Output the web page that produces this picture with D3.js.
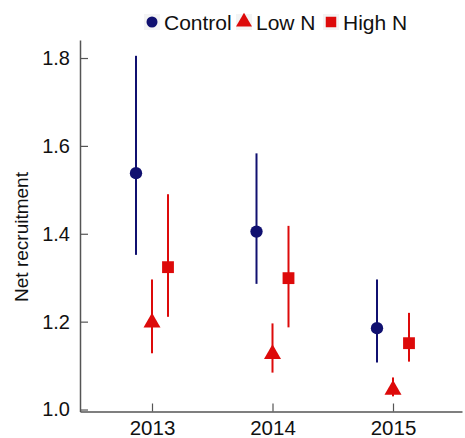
<!DOCTYPE html>
<html>
<head>
<meta charset="utf-8">
<script src="https://cdn.jsdelivr.net/npm/d3@7"></script>
<style>
  body { margin: 0; background: #fff; }
  text { font-family: "Liberation Sans", Arial, sans-serif; }
</style>
</head>
<body>
<div id="chart"></div>
<script>
// Data
const years = [2013, 2014, 2015];
const groups = ["Control", "Low N", "High N"];
const controlMean = [1.538, 1.405, 1.185];
const controlLow = [1.352, 1.286, 1.107];
const controlHigh = [1.805, 1.583, 1.296];
const lowNMean = [1.198, 1.126, 1.045];
const lowNLow = [1.128, 1.084, 1.030];
const lowNHigh = [1.296, 1.196, 1.073];
const highNMean = [1.324, 1.299, 1.151];
const highNLow = [1.211, 1.187, 1.109];
const highNHigh = [1.490, 1.418, 1.220];
const yTicks = [1.0, 1.2, 1.4, 1.6, 1.8];

const width = 465, height = 438;
const navy = "#101070", red = "#dd0a0a";

const series = [
  { name: "Control", mean: controlMean, lo: controlLow, hi: controlHigh, color: navy, shape: d3.symbolCircle, size: 120 },
  { name: "Low N", mean: lowNMean, lo: lowNLow, hi: lowNHigh, color: red, shape: d3.symbolTriangle, size: 125 },
  { name: "High N", mean: highNMean, lo: highNLow, hi: highNHigh, color: red, shape: d3.symbolSquare, size: 140 }
];

const svg = d3.select("#chart")
  .append("svg")
  .attr("width", width)
  .attr("height", height);

const xScale = d3.scaleLinear()
  .domain([2012.4025, 2015.5726])
  .range([80, 462]);
const offset = d3.scalePoint()
  .domain(groups)
  .range([-16, 16]);
const yScale = d3.scaleLinear()
  .domain([0.9955, 1.841])
  .range([411.5, 40]);

// y axis
svg.append("g")
  .attr("transform", "translate(80,0)")
  .call(d3.axisLeft(yScale).tickValues(yTicks).tickFormat(d3.format(".1f"))
    .tickSizeInner(-8).tickSizeOuter(0).tickPadding(10))
  .call(g => g.select(".domain").attr("stroke", "#555").attr("stroke-width", 1.5))
  .call(g => g.selectAll(".tick line").attr("stroke", "#555").attr("stroke-width", 1.2))
  .call(g => g.selectAll(".tick text").attr("font-size", "20px").attr("fill", "#111")
    .attr("font-family", "Liberation Sans, Arial, sans-serif"));

// x axis
svg.append("g")
  .attr("transform", "translate(0,411.5)")
  .call(d3.axisBottom(xScale).tickValues(years).tickFormat(d3.format("d"))
    .tickSizeInner(-8).tickSizeOuter(0).tickPadding(9))
  .call(g => g.select(".domain").attr("stroke", "#555").attr("stroke-width", 1.5))
  .call(g => g.selectAll(".tick line").attr("stroke", "#555").attr("stroke-width", 1.2))
  .call(g => g.selectAll(".tick text").attr("font-size", "20.5px").attr("fill", "#111")
    .attr("font-family", "Liberation Sans, Arial, sans-serif"));

// y title
svg.append("text")
  .attr("transform", "translate(28,237) rotate(-90)")
  .attr("text-anchor", "middle")
  .attr("font-size", "19px")
  .attr("fill", "#111")
  .text("Net recruitment");

// error bars and points
series.forEach(s => {
  const g = svg.append("g");
  const rows = years.map((yr, i) => ({ yr, mean: s.mean[i], lo: s.lo[i], hi: s.hi[i] }));
  g.selectAll("line")
    .data(rows)
    .join("line")
    .attr("x1", d => xScale(d.yr) + offset(s.name))
    .attr("x2", d => xScale(d.yr) + offset(s.name))
    .attr("y1", d => yScale(d.lo))
    .attr("y2", d => yScale(d.hi))
    .attr("stroke", s.color)
    .attr("stroke-width", 2);
  g.selectAll("path")
    .data(rows)
    .join("path")
    .attr("d", d3.symbol().type(s.shape).size(s.size))
    .attr("transform", d => `translate(${xScale(d.yr) + offset(s.name)},${yScale(d.mean)})`)
    .attr("fill", s.color);
});

// legend
const legendX = [152, 244, 331];
const legend = svg.append("g");
series.forEach((s, i) => {
  const lg = legend.append("g").attr("transform", `translate(${legendX[i]},22)`);
  lg.append("rect")
    .attr("x", -8).attr("y", -8).attr("width", 16).attr("height", 16)
    .attr("fill", "#f4f4f4");
  lg.append("path")
    .attr("d", d3.symbol().type(s.shape).size(s.shape === d3.symbolCircle ? 95 : 110))
    .attr("fill", s.color);
  lg.append("text")
    .attr("x", 12)
    .attr("y", 8)
    .attr("font-size", "21px")
    .attr("fill", "#111")
    .text(s.name);
});
</script>
</body>
</html>
